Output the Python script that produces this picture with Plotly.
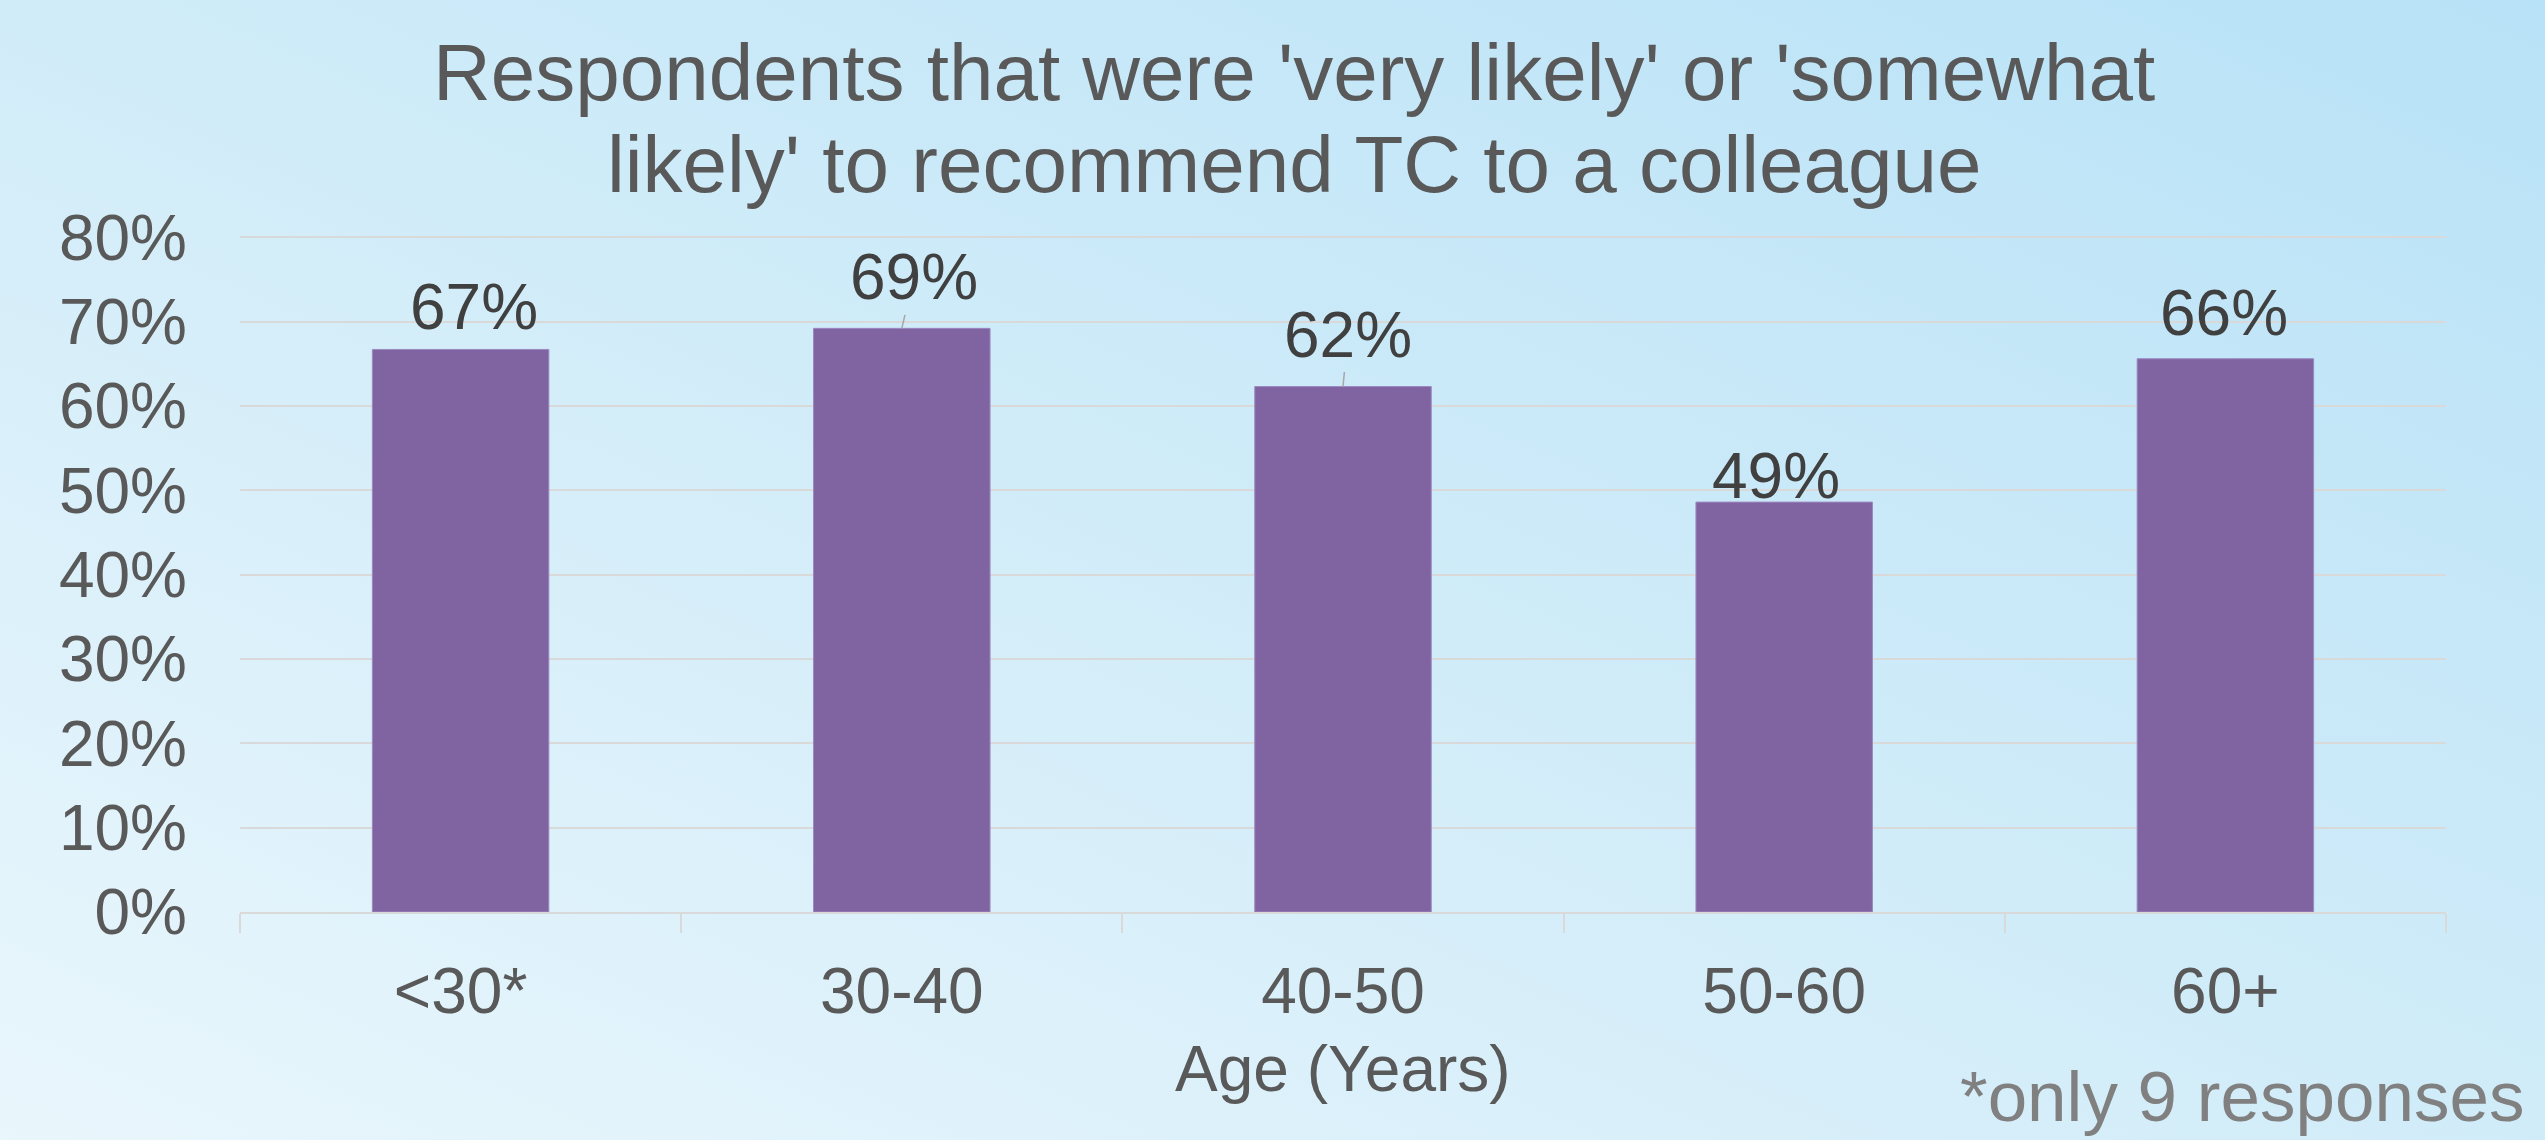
import base64
import plotly.graph_objects as go

# ---------------- data ----------------
categories = ["<30*", "30-40", "40-50", "50-60", "60+"]
shares = [0.667, 0.692, 0.623, 0.486, 0.656]
y_tick_values = [0, 0.1, 0.2, 0.3, 0.4, 0.5, 0.6, 0.7, 0.8]
title_lines = ["Respondents that were 'very likely' or 'somewhat",
               "likely' to recommend TC to a colleague"]
x_title = "Age (Years)"
footnote = "*only 9 responses"

# ---------------- style ----------------
W, H = 2545, 1140
ML, MR, MT, MB = 240, 99, 236, 228
PW, PH = W - ML - MR, H - MT - MB
FONT = "Liberation Sans, Arial, sans-serif"
BAR_COLOR = "#8064a2"
GRID = "#d9d9d9"
TICK_COLOR = "#595959"
LABEL_COLOR = "#404040"

# label offsets (px) from the bar top centre: (dx, dy_up, leader)
label_offsets = [(13, 42, False), (12, 51, True), (5, 52, True), (-8, 26, False), (-1, 46, False)]


def px_x(X):
    return (X - ML) / PW


def px_y(Y):
    return (H - MB - Y) / PH


svg = f'''<svg xmlns="http://www.w3.org/2000/svg" width="{W}" height="{H}" viewBox="0 0 {W} {H}">
<defs><linearGradient id="g" x1="0" y1="1" x2="1" y2="0">
<stop offset="0" stop-color="#e9f6fc"/>
<stop offset="0.45" stop-color="#d3edf9"/>
<stop offset="1" stop-color="#b8e2f7"/>
</linearGradient></defs>
<rect width="{W}" height="{H}" fill="url(#g)"/></svg>'''
bg_src = "data:image/svg+xml;base64," + base64.b64encode(svg.encode()).decode()

fig = go.Figure()
fig.add_trace(go.Bar(
    x=categories, y=shares,
    marker=dict(color=BAR_COLOR, line=dict(color="#9c88c0", width=1)),
    hoverinfo="skip",
))

annotations = []
for cat, v, (dx, dy, leader) in zip(categories, shares, label_offsets):
    annotations.append(dict(
        x=cat, y=v, xref="x", yref="y",
        text=f"{round(v * 100):d}%",
        showarrow=True, ax=dx, ay=-dy, arrowhead=0, arrowwidth=1.5,
        arrowcolor="#a6a6a6" if leader else "rgba(0,0,0,0)",
        standoff=0, startstandoff=0,
        font=dict(family=FONT, size=64, color=LABEL_COLOR),
        xanchor="center", yanchor="middle",
    ))

# title lines
for line, yc in zip(title_lines, [73, 165]):
    annotations.append(dict(
        x=px_x(1294), y=px_y(yc), xref="paper", yref="paper",
        text=line, showarrow=False, xanchor="center", yanchor="middle",
        font=dict(family=FONT, size=80, color="#595959"),
    ))

annotations.append(dict(
    x=0.5, y=px_y(1069), xref="paper", yref="paper", text=x_title,
    showarrow=False, xanchor="center", yanchor="middle",
    font=dict(family=FONT, size=64, color=TICK_COLOR),
))
annotations.append(dict(
    x=px_x(1958), y=px_y(1096), xref="paper", yref="paper", text=footnote,
    showarrow=False, xanchor="left", yanchor="middle",
    font=dict(family=FONT, size=71, color="#808080"),
))

fig.update_layout(
    width=W, height=H,
    margin=dict(l=ML, r=MR, t=MT, b=MB, pad=0),
    paper_bgcolor="#d3edf9",
    plot_bgcolor="rgba(0,0,0,0)",
    showlegend=False,
    bargap=0.6,
    font=dict(family=FONT, size=64, color=TICK_COLOR),
    annotations=annotations,
    images=[dict(
        source=bg_src, xref="paper", yref="paper",
        x=-ML / PW, y=1 + MT / PH, sizex=W / PW, sizey=H / PH,
        xanchor="left", yanchor="top", sizing="stretch", layer="below",
    )],
    xaxis=dict(
        showgrid=False, showline=True, linecolor=GRID, linewidth=2,
        ticks="outside", tickson="boundaries", ticklen=19, tickwidth=2,
        tickcolor=GRID, ticklabelstandoff=22,
        tickfont=dict(family=FONT, size=64, color=TICK_COLOR),
        automargin=False,
    ),
    yaxis=dict(
        range=[0, 0.8015], tickvals=y_tick_values, tickformat=".0%",
        showgrid=True, gridcolor=GRID, gridwidth=2,
        zeroline=False, showline=False, ticks="",
        ticklabelstandoff=52,
        tickfont=dict(family=FONT, size=64, color=TICK_COLOR),
        automargin=False,
    ),
)

fig.write_html("out.html")
